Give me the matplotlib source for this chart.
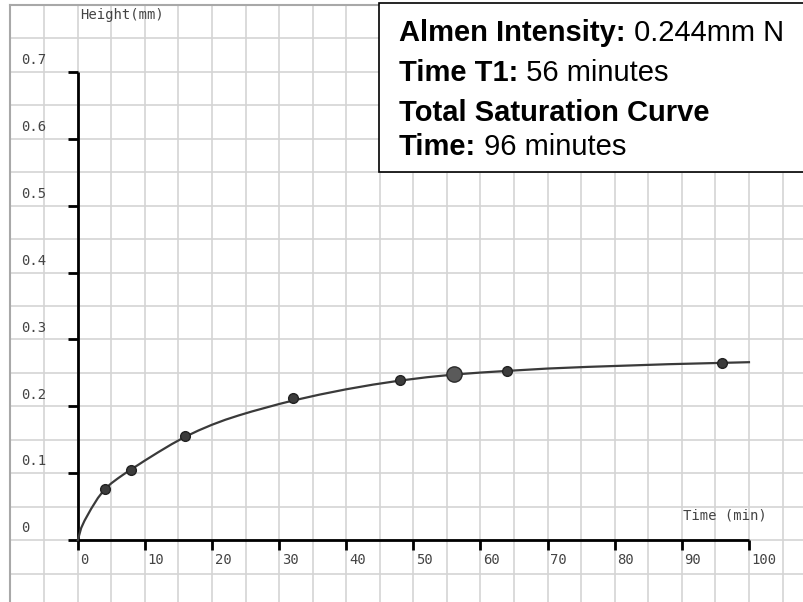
import matplotlib
matplotlib.use("Agg")
import matplotlib.pyplot as plt
from matplotlib.patches import Rectangle
import numpy as np

# measured points (time in minutes, arc height in mm)
times = [4, 8, 16, 32, 48, 64, 96]
heights = [0.077, 0.105, 0.155, 0.212, 0.240, 0.253, 0.265]

# T1 point
t1_time = 56
t1_height = 0.248

# fitted saturation curve
curve_t = [0, 0.5, 1, 2, 3, 4, 5, 6, 7, 8, 10, 12, 14, 16, 18, 20, 22, 24, 26, 28,
           30, 32, 36, 40, 44, 48, 52, 56, 60, 64, 70, 76, 82, 88, 94, 100]
curve_h = [0, 0.018, 0.029, 0.047, 0.063, 0.076, 0.085, 0.0925, 0.0995, 0.106,
           0.119, 0.1315, 0.1435, 0.1545, 0.164, 0.1725, 0.180, 0.1865, 0.1925,
           0.198, 0.2035, 0.2085, 0.2175, 0.2255, 0.2325, 0.2385, 0.2435, 0.2475,
           0.2505, 0.253, 0.2565, 0.259, 0.261, 0.263, 0.2645, 0.266]

x_ticks = list(range(0, 101, 10))
y_ticks = [0, 0.1, 0.2, 0.3, 0.4, 0.5, 0.6, 0.7]
y_labels = ["0", "0.1", "0.2", "0.3", "0.4", "0.5", "0.6", "0.7"]

info_lines = [
    ("Almen Intensity:", " 0.244mm N"),
    ("Time T1:", " 56 minutes"),
    ("Total Saturation Curve", ""),
    ("Time:", " 96 minutes"),
]

fig = plt.figure(figsize=(8.04, 6.02), dpi=100)
ax = fig.add_axes([10 / 804, 0, 794 / 804, 597 / 602])
ax.set_xlim(-10.1, 108.2)
ax.set_ylim(-0.0925, 0.80)
ax.set_xticks([])
ax.set_yticks([])
for side in ["right", "bottom"]:
    ax.spines[side].set_visible(False)
for side in ["left", "top"]:
    ax.spines[side].set_color("#a8a8a8")
    ax.spines[side].set_linewidth(1.5)

# background grid
grid_col = "#d4d4d4"
for gx in np.arange(-5, 110, 5):
    ax.axvline(gx, color=grid_col, lw=1.2, zorder=0)
for gy in np.arange(-0.05, 0.76, 0.05):
    ax.axhline(gy, color=grid_col, lw=1.2, zorder=0)

# axes lines and ticks
ax.plot([0, 0], [0, 0.7], color="black", lw=2, zorder=2, solid_capstyle="butt")
ax.plot([0, 100], [0, 0], color="black", lw=2, zorder=2, solid_capstyle="butt")
ax.plot([0] * len(y_ticks), y_ticks, ls="none", marker=0, ms=7, mew=2,
        color="black", zorder=2)
ax.plot(x_ticks, [0] * len(x_ticks), ls="none", marker=3, ms=7, mew=2,
        color="black", zorder=2)

mono = "DejaVu Sans Mono"
lab_col = "#444444"
for v, s in zip(y_ticks, y_labels):
    ax.annotate(s, xy=(0, v), xytext=(-40.5, 8.5), textcoords="offset points",
                ha="left", va="center", fontsize=10, family=mono, color=lab_col)
for v in x_ticks:
    ax.annotate(str(v), xy=(v, 0), xytext=(2, -14.5), textcoords="offset points",
                ha="left", va="center", fontsize=10, family=mono, color=lab_col)
ax.annotate("Height(mm)", xy=(0, 0.8), xytext=(1.5, -7), textcoords="offset points",
            ha="left", va="center", fontsize=10, family=mono, color=lab_col)
ax.annotate("Time (min)", xy=(90, 0), xytext=(1, 17.5), textcoords="offset points",
            ha="left", va="center", fontsize=10, family=mono, color=lab_col)

# curve and points
ax.plot(curve_t, curve_h, color="#3a3a3a", lw=1.6, zorder=3, solid_joinstyle="round")
ax.plot(times, heights, ls="none", marker="o", ms=7, mfc="#3c3c3c",
        mec="#222222", mew=1, zorder=4)
ax.plot([t1_time], [t1_height], ls="none", marker="o", ms=11, mfc="#5a5a5a",
        mec="#2a2a2a", mew=1, zorder=4)

# info box
box = Rectangle((379 / 804, 1 - 172 / 602), 0.6, 169 / 602, transform=fig.transFigure,
                facecolor="white", edgecolor="black", lw=1.2, zorder=10)
fig.add_artist(box)

renderer = fig.canvas.get_renderer()
baselines = [41, 81, 121, 155]
for (bold, regular), b in zip(info_lines, baselines):
    y = 1 - b / 602
    t = fig.text(399 / 804, y, bold, fontsize=21, fontweight="bold",
                 family="Liberation Sans", va="baseline", ha="left", zorder=11)
    if regular:
        w = t.get_window_extent(renderer).width
        fig.text((399 + w) / 804, y, regular, fontsize=21,
                 family="Liberation Sans", va="baseline", ha="left", zorder=11)

fig.savefig("out.png", dpi=100)
